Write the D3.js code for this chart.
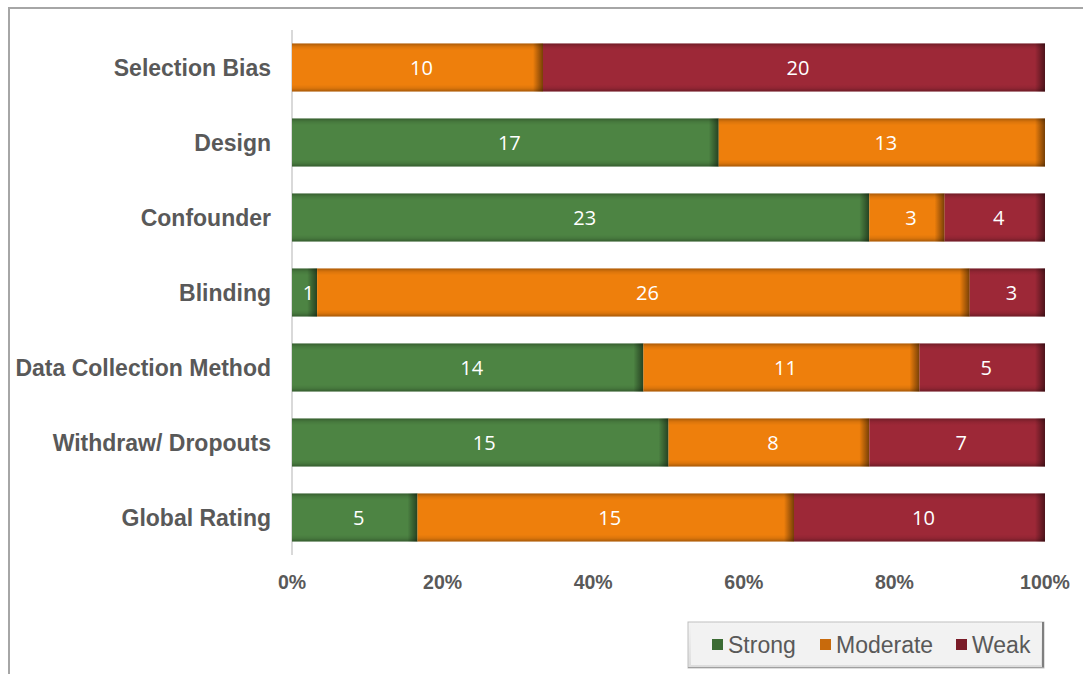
<!DOCTYPE html>
<html>
<head>
<meta charset="utf-8">
<script src="https://cdn.jsdelivr.net/npm/d3@7"></script>
<style>
  html, body { margin: 0; padding: 0; background: #fff; }
  svg { display: block; font-family: Arial, "Liberation Sans", sans-serif; }
</style>
</head>
<body>
<svg id="chart" width="1083" height="674"></svg>
<script>
// Quality assessment ratings per component (number of studies)
const categories = ["Selection Bias", "Design", "Confounder", "Blinding",
  "Data Collection Method", "Withdraw/ Dropouts", "Global Rating"];
const seriesNames = ["Strong", "Moderate", "Weak"];
const strong   = [0, 17, 23, 1, 14, 15, 5];
const moderate = [10, 13, 3, 26, 11, 8, 15];
const weak     = [20, 0, 4, 3, 5, 7, 10];
const tickLabels = ["0%", "20%", "40%", "60%", "80%", "100%"];
const colors = ["#4d8443", "#ee7f0c", "#9d2837"];
const legendSwatch = ["#3b6b33", "#c86a0c", "#7a1c28"];

const svg = d3.select("#chart");
const W = 1083, H = 674;

// outer frame
svg.append("rect").attr("x", 9).attr("y", 8).attr("width", W + 10).attr("height", H + 10)
  .attr("fill", "#fff").attr("stroke", "#a6a6a6").attr("stroke-width", 2);

const defs = svg.append("defs");
// right-edge shadow
const gR = defs.append("linearGradient").attr("id", "edgeR").attr("x1", 0).attr("x2", 1).attr("y1", 0).attr("y2", 0);
gR.append("stop").attr("offset", 0).attr("stop-color", "#000").attr("stop-opacity", 0);
gR.append("stop").attr("offset", 1).attr("stop-color", "#000").attr("stop-opacity", 0.5);
// top/bottom bevel
const gV = defs.append("linearGradient").attr("id", "edgeV").attr("x1", 0).attr("x2", 0).attr("y1", 0).attr("y2", 1);
[[0, 0.28], [0.07, 0.08], [0.14, 0], [0.86, 0], [0.93, 0.08], [1, 0.3]].forEach(([o, a]) =>
  gV.append("stop").attr("offset", o).attr("stop-color", "#000").attr("stop-opacity", a));
// legend box gradient
const gL = defs.append("linearGradient").attr("id", "legBg").attr("x1", 0).attr("x2", 0).attr("y1", 0).attr("y2", 1);
gL.append("stop").attr("offset", 0).attr("stop-color", "#f4f4f4");
gL.append("stop").attr("offset", 1).attr("stop-color", "#dcdcdc");

const x = d3.scaleLinear().domain([0, 1]).range([292, 1045]);
const y = d3.scaleBand().domain(categories).range([30, 555]).paddingInner(0.36).paddingOuter(0.18);

const rows = categories.map((c, i) => {
  const vals = [strong[i], moderate[i], weak[i]];
  const total = d3.sum(vals);
  let acc = 0;
  return { cat: c, segs: vals.map((v, k) => {
    const s = { k, v, x0: acc / total, x1: (acc + v) / total };
    acc += v; return s;
  }).filter(s => s.v > 0) };
});

// axis line
svg.append("line").attr("x1", x(0)).attr("x2", x(0)).attr("y1", 30).attr("y2", 555)
  .attr("stroke", "#d9d9d9").attr("stroke-width", 2);

const rowG = svg.selectAll("g.row").data(rows).join("g").attr("class", "row")
  .attr("transform", d => `translate(0,${y(d.cat)})`);
const bh = y.bandwidth();

const segG = rowG.selectAll("g.seg").data(d => d.segs).join("g").attr("class", "seg");
segG.append("rect").attr("x", d => x(d.x0)).attr("width", d => x(d.x1) - x(d.x0))
  .attr("y", 0).attr("height", bh).attr("fill", d => colors[d.k]);
segG.append("rect").attr("x", d => x(d.x0)).attr("width", d => x(d.x1) - x(d.x0))
  .attr("y", 0).attr("height", bh).attr("fill", "url(#edgeV)");
segG.append("rect").attr("x", d => Math.max(x(d.x0), x(d.x1) - 10)).attr("width", d => Math.min(10, x(d.x1) - x(d.x0)))
  .attr("y", 0).attr("height", bh).attr("fill", "url(#edgeR)");
segG.append("text").attr("x", d => (x(d.x0) + x(d.x1)) / 2 + 4).attr("y", bh / 2)
  .attr("dy", "0.36em").attr("text-anchor", "middle")
  .attr("fill", "#fff").attr("font-size", 20).attr("font-family", "'Open Sans', 'DejaVu Sans', sans-serif")
  .text(d => d.v);

// category labels
svg.selectAll("text.cat").data(categories).join("text").attr("class", "cat")
  .attr("x", 271).attr("y", d => y(d) + bh / 2).attr("dy", "0.36em")
  .attr("text-anchor", "end").attr("font-size", 23).attr("font-weight", "bold").attr("fill", "#595959")
  .text(d => d);

// x tick labels
svg.selectAll("text.tick").data(tickLabels).join("text").attr("class", "tick")
  .attr("x", (d, i) => x(i / (tickLabels.length - 1))).attr("y", 589)
  .attr("text-anchor", "middle").attr("font-size", 19.5).attr("font-weight", "bold").attr("fill", "#595959")
  .text(d => d);

// legend
const lg = svg.append("g").attr("transform", "translate(688,622)");
lg.append("rect").attr("width", 356).attr("height", 46).attr("fill", "url(#legBg)")
  .attr("stroke", "#bfbfbf").attr("stroke-width", 1);
lg.append("rect").attr("x", 3).attr("y", 3).attr("width", 350).attr("height", 40).attr("fill", "#f2f2f2");
lg.append("line").attr("x1", 355).attr("x2", 355).attr("y1", 0).attr("y2", 46).attr("stroke", "#7f7f7f").attr("stroke-width", 2);
lg.append("line").attr("x1", 0).attr("x2", 356).attr("y1", 45.5).attr("y2", 45.5).attr("stroke", "#a0a0a0").attr("stroke-width", 1);
const legX = [24, 132, 268];
const li = lg.selectAll("g.li").data(seriesNames).join("g").attr("class", "li")
  .attr("transform", (d, i) => `translate(${legX[i]},23)`);
li.append("rect").attr("x", 0).attr("y", -6).attr("width", 11).attr("height", 11)
  .attr("fill", (d, i) => legendSwatch[i]);
li.append("text").attr("x", 16).attr("y", 0).attr("dy", "0.36em").attr("font-size", 23)
  .attr("fill", "#595959").text(d => d);
</script>
</body>
</html>
